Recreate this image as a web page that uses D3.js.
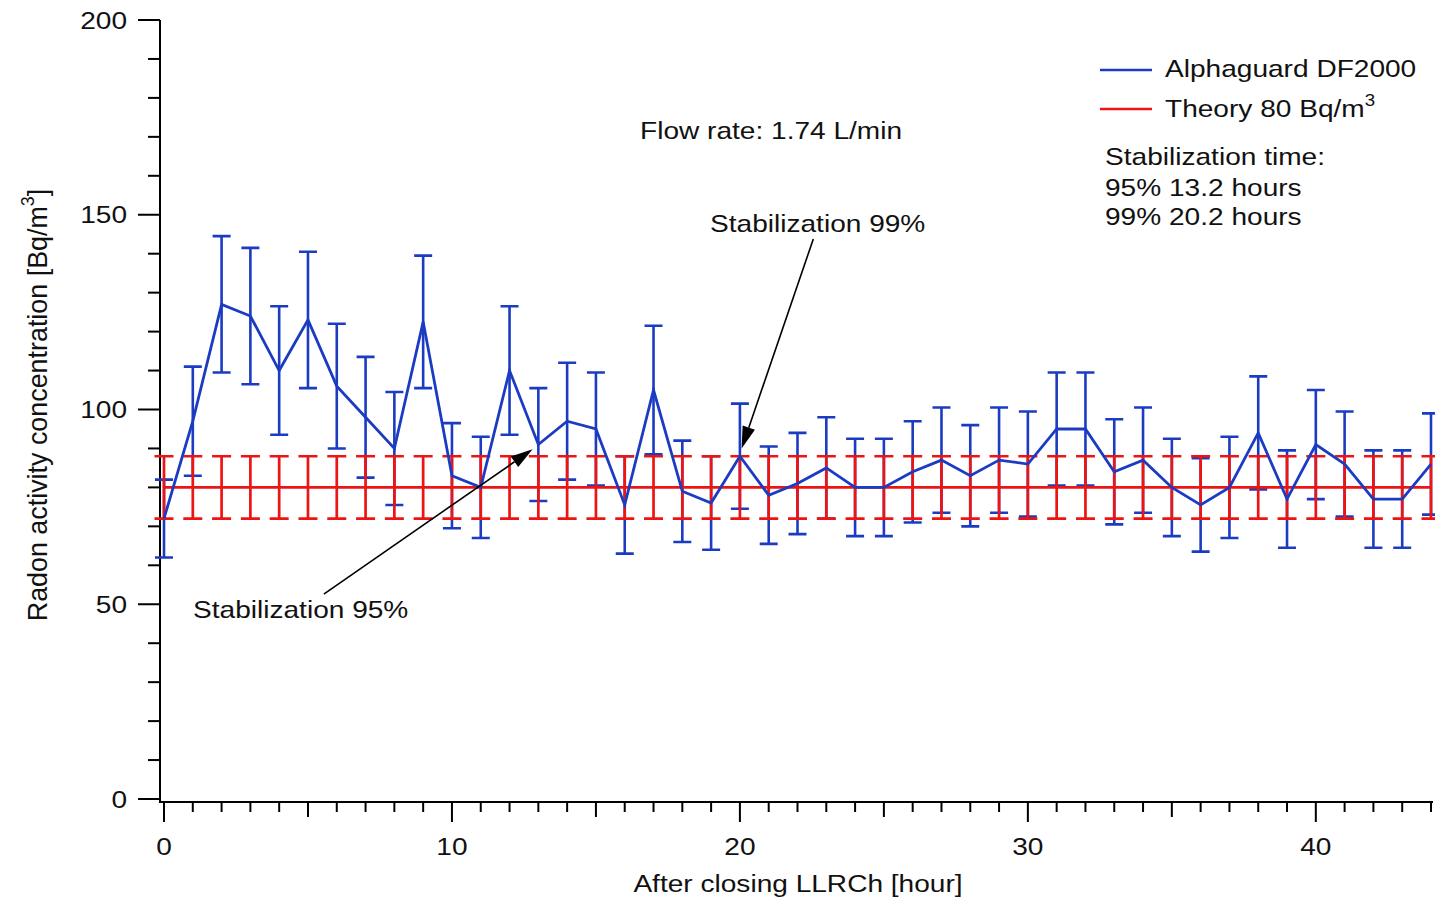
<!DOCTYPE html>
<html>
<head>
<meta charset="utf-8">
<style>
  body { margin: 0; background: #fff; }
  svg { font-family: "Liberation Sans", Arial, sans-serif; }
</style>
</head>
<body>
<svg width="1435" height="898"></svg>
<script src="https://cdn.jsdelivr.net/npm/d3@7"></script>
<script>

// measured values, Alphaguard DF2000, one per hour
var hours = d3.range(0, 45);
var alphaValues = [72, 97, 127, 124, 110, 123, 106, 98, 90, 122.5,
                   83, 80, 110, 91, 97, 95, 75.5, 105, 79, 76,
                   88, 78, 81, 85, 80, 80, 84, 87, 83, 87,
                   86, 95, 95, 84, 87, 80, 75.5, 80, 94, 77,
                   91, 86, 77, 77, 86];
var alphaErrors = [10, 14, 17.5, 17.5, 16.5, 17.5, 16, 15.5, 14.5, 17,
                   13.5, 13, 16.5, 14.5, 15, 14.5, 12.5, 16.5, 13, 12,
                   13.5, 12.5, 13, 13, 12.5, 12.5, 13, 13.5, 13, 13.5,
                   13.5, 14.5, 14.5, 13.5, 13.5, 12.5, 12, 13, 14.5, 12.5,
                   14, 13.5, 12.5, 12.5, 13];
var theoryValue = 80;
var theoryError = 8;

var yTicks = [0, 50, 100, 150, 200];
var xTicks = [0, 10, 20, 30, 40];

// annotation arrows, in data units: [from, to]
var arrows = [
  {label: "Stabilization 95%", from: [5.55, 52.6], to: [12.8, 89.8]},
  {label: "Stabilization 99%", from: [22.55, 143.8], to: [20.06, 90]}
];

var BLUE = "#1b3cc2", RED = "#ee1414";
var SX = 1.17; // text in the original is stretched horizontally

var svg = d3.select("svg");

var x = d3.scaleLinear().domain([0, 44]).range([164, 1431]);
var y = d3.scaleLinear().domain([0, 200]).range([799, 20]);

function txt(g, px, py, s, anchor, size) {
  return g.append("text")
    .attr("transform", "translate(" + px + "," + py + ") scale(" + SX + ",1)")
    .attr("text-anchor", anchor || "start")
    .attr("font-size", size || 24)
    .attr("fill", "#111")
    .text(s);
}

// ---- axes ----
var axisG = svg.append("g").attr("stroke", "#000").attr("stroke-width", 2);

axisG.append("line").attr("x1", 160).attr("x2", 160).attr("y1", y(200)).attr("y2", 802);
axisG.selectAll(".ytick")
  .data(d3.range(0, 201, 10))
  .enter().append("line")
  .attr("x1", function(d) { return d % 50 === 0 ? 138 : 148; })
  .attr("x2", 160)
  .attr("y1", function(d) { return y(d); })
  .attr("y2", function(d) { return y(d); });

axisG.append("line").attr("x1", 159).attr("x2", 1433).attr("y1", 802).attr("y2", 802);
axisG.selectAll(".xtick")
  .data(hours)
  .enter().append("line")
  .attr("x1", function(d) { return x(d); })
  .attr("x2", function(d) { return x(d); })
  .attr("y1", 802)
  .attr("y2", function(d) { return d % 10 === 0 ? 822 : (d % 5 === 0 ? 817 : 812); });

yTicks.forEach(function(t) { txt(svg, 127, y(t) + 8.5, t, "end"); });
xTicks.forEach(function(t) { txt(svg, x(t), 855, t, "middle"); });

txt(svg, 798, 892, "After closing LLRCh [hour]", "middle");

var ylab = svg.append("text")
  .attr("transform", "translate(47,405) rotate(-90) scale(1.12," + SX + ")")
  .attr("text-anchor", "middle")
  .attr("font-size", 24)
  .attr("fill", "#111");
ylab.append("tspan").text("Radon activity concentration [Bq/m");
ylab.append("tspan").attr("font-size", 16).attr("dy", -11).text("3");
ylab.append("tspan").attr("dy", 11).text("]");

// ---- blue error bars ----
var cap = 9;
var blueErr = svg.append("g").attr("stroke", BLUE).attr("stroke-width", 2.6).attr("fill", "none");
blueErr.selectAll("path")
  .data(hours)
  .enter().append("path")
  .attr("d", function(h) {
    var cx = x(h), t = y(alphaValues[h] + alphaErrors[h]), b = y(alphaValues[h] - alphaErrors[h]);
    return "M" + (cx - cap) + "," + t + "H" + (cx + cap) +
           "M" + cx + "," + t + "V" + b +
           "M" + (cx - cap) + "," + b + "H" + (cx + cap);
  });

// ---- theory line with error bars ----
var rcap = 9.5;
var redG = svg.append("g").attr("stroke", RED).attr("stroke-width", 2.7).attr("fill", "none");
redG.append("line")
  .attr("x1", x(0)).attr("x2", x(44))
  .attr("y1", y(theoryValue)).attr("y2", y(theoryValue));
redG.selectAll(".rerr")
  .data(hours)
  .enter().append("path")
  .attr("d", function(h) {
    var cx = x(h), t = y(theoryValue + theoryError), b = y(theoryValue - theoryError);
    return "M" + (cx - rcap) + "," + t + "H" + (cx + rcap) +
           "M" + cx + "," + t + "V" + b +
           "M" + (cx - rcap) + "," + b + "H" + (cx + rcap);
  });

// ---- blue measured line ----
var line = d3.line()
  .x(function(h) { return x(h); })
  .y(function(h) { return y(alphaValues[h]); });

svg.append("path")
  .datum(hours)
  .attr("d", line)
  .attr("fill", "none")
  .attr("stroke", BLUE)
  .attr("stroke-width", 2.8)
  .attr("stroke-linejoin", "miter");

// ---- annotations ----
arrows.forEach(function(a) {
  var x1 = x(a.from[0]), y1 = y(a.from[1]), x2 = x(a.to[0]), y2 = y(a.to[1]);
  var ang = Math.atan2(y2 - y1, x2 - x1);
  var hl = 22, hw = 6.5;
  var bx = x2 - hl * Math.cos(ang), by = y2 - hl * Math.sin(ang);
  svg.append("line")
    .attr("x1", x1).attr("y1", y1).attr("x2", bx).attr("y2", by)
    .attr("stroke", "#000").attr("stroke-width", 1.6);
  svg.append("path")
    .attr("d", "M" + x2 + "," + y2 +
               "L" + (bx + hw * Math.sin(ang)) + "," + (by - hw * Math.cos(ang)) +
               "L" + (bx - hw * Math.sin(ang)) + "," + (by + hw * Math.cos(ang)) + "Z")
    .attr("fill", "#000");
});

txt(svg, 193, 618, "Stabilization 95%");
txt(svg, 710, 232, "Stabilization 99%");
txt(svg, 640, 139, "Flow rate: 1.74 L/min");

// ---- legend ----
var leg = svg.append("g");
leg.append("line").attr("x1", 1100).attr("x2", 1152).attr("y1", 70).attr("y2", 70)
  .attr("stroke", BLUE).attr("stroke-width", 2.4);
leg.append("line").attr("x1", 1100).attr("x2", 1152).attr("y1", 109).attr("y2", 109)
  .attr("stroke", RED).attr("stroke-width", 2.4);
txt(leg, 1165, 77, "Alphaguard DF2000");
var th = txt(leg, 1165, 117, "Theory 80 Bq/m");
th.append("tspan").attr("font-size", 16).attr("dy", -11).text("3");

txt(leg, 1105, 165, "Stabilization time:");
txt(leg, 1105, 196, "95% 13.2 hours");
txt(leg, 1105, 225, "99% 20.2 hours");

</script>
</body>
</html>
